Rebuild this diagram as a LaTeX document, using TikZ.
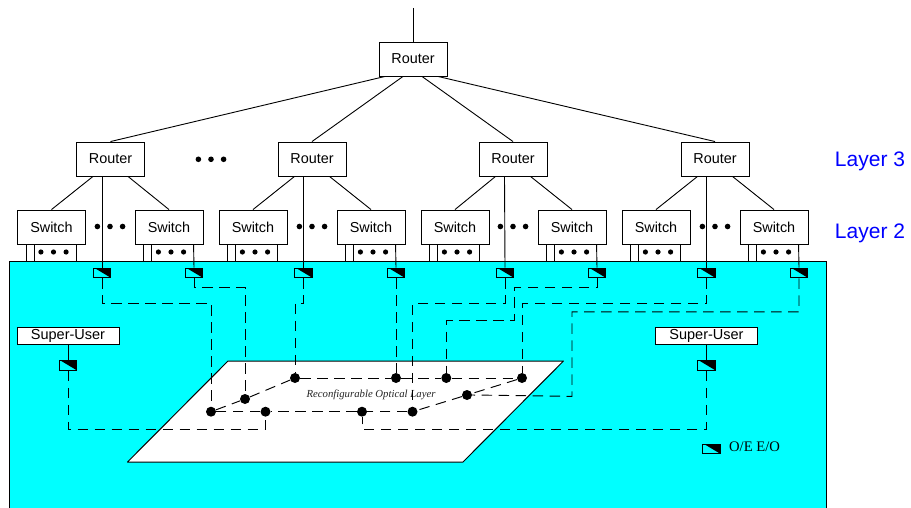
\documentclass[tikz,border=0pt]{standalone}
\usepackage{fontspec}
\setmainfont{Liberation Sans}
\newfontfamily\timesf{Liberation Serif}
\definecolor{cy}{RGB}{0,255,255}
\definecolor{layerblue}{RGB}{0,0,255}
\tikzset{
  line/.style={draw=black,line width=0.9pt},
  dashline/.style={draw=black,line width=0.95pt,dash pattern=on 10.5pt off 6.5pt},
  netbox/.style={draw=black,line width=0.9pt,fill=white,minimum width=68pt,minimum height=34pt,inner sep=0pt,font=\fontsize{14.4pt}{16pt}\selectfont},
  userbox/.style={draw=black,line width=0.9pt,fill=white,minimum width=102pt,minimum height=17.5pt,inner sep=0pt,font=\fontsize{14.5pt}{16pt}\selectfont},
  oebox/.style={draw=black,line width=1.2pt,fill=cy,minimum width=17.5pt,minimum height=9.5pt,inner sep=0pt,
    path picture={\fill[black] ([yshift=1pt]path picture bounding box.north west)--([yshift=1pt]path picture bounding box.north east)--(path picture bounding box.south east)--cycle;}},
  junction/.style={circle,fill=black,minimum size=10pt,inner sep=0pt},
  layerlabel/.style={text=layerblue,font=\fontsize{21pt}{24pt}\selectfont,inner sep=0pt},
}
\newcommand{\threedots}[3]{\foreach \dx in {-1,0,1}{\fill[black] ({#1+\dx*12.6},#2) circle (#3pt);}}
\begin{document}
\begin{tikzpicture}[x=1pt,y=-1pt]
\useasboundingbox (0,0) rectangle (911,508);
% substrate
\path[fill=cy,draw=black,line width=1pt] (9,261) rectangle (826,515);
\path[fill=white,draw=black,line width=1pt,line join=round] (228,361) -- (563.5,361) -- (463,462) -- (127.5,462) -- cycle;
\node[font=\timesf\itshape\fontsize{10.75pt}{12pt}\selectfont,text=black!85,inner sep=0pt] (layertext) at (371,394.5) {Reconfigurable Optical Layer};
% routers
\node[netbox] (top) at (413,59) {Router};
\node[netbox] (r1) at (110.5,159) {Router};
\node[netbox] (r2) at (312,159) {Router};
\node[netbox] (r3) at (513,159) {Router};
\node[netbox] (r4) at (715,159) {Router};
% switches
\node[netbox] (s1) at (51.5,227) {Switch};
\node[netbox] (s2) at (169,227) {Switch};
\node[netbox] (s3) at (253,227) {Switch};
\node[netbox] (s4) at (371,227) {Switch};
\node[netbox] (s5) at (455,227) {Switch};
\node[netbox] (s6) at (572,227) {Switch};
\node[netbox] (s7) at (656,227) {Switch};
\node[netbox] (s8) at (774,227) {Switch};
% O/E converters
\node[oebox] (o1) at (102,273) {};
\node[oebox] (o2) at (194,273) {};
\node[oebox] (o3) at (303.5,273) {};
\node[oebox] (o4) at (396,273) {};
\node[oebox] (o5) at (505,273) {};
\node[oebox] (o6) at (597,273) {};
\node[oebox] (o7) at (706.5,273) {};
\node[oebox] (o8) at (799,273) {};
% super users
\node[userbox] (u1) at (68,336) {Super-User};
\node[userbox] (u2) at (706.5,336) {Super-User};
\node[oebox] (ou1) at (68,365.5) {};
\node[oebox] (ou2) at (706.5,365.5) {};
% legend
\node[oebox] (legend) at (711.5,449) {};
\node[font=\timesf\fontsize{14.6pt}{16pt}\selectfont,anchor=west,inner sep=0pt] (legendtext) at (729,447) {O/E E/O};
% layer labels
\node[layerlabel] (l3) at (870,161) {Layer 3};
\node[layerlabel] (l2) at (870,233) {Layer 2};
% optical junctions
\node[junction] (j1) at (211,411.7) {};
\node[junction] (j2) at (245,399) {};
\node[junction] (j3) at (295,378) {};
\node[junction] (j4) at (396,378) {};
\node[junction] (j5) at (446.3,378) {};
\node[junction] (j6) at (522,378) {};
\node[junction] (j7) at (467,395) {};
\node[junction] (j8) at (412.5,411.7) {};
\node[junction] (j9) at (362,411.7) {};
\node[junction] (j10) at (265.5,411.7) {};
% uplinks
\coordinate (uplink) at (413,8);
\draw[line] (uplink) -- (top.north);
\draw[line] ([xshift=-28pt]top.south) -- (r1.north);
\draw[line] ([xshift=-10pt]top.south) -- (r2.north);
\draw[line] ([xshift=9pt]top.south) -- (r3.north);
\draw[line] ([xshift=25pt]top.south) -- (r4.north);
% router to switch and converter
\foreach \r/\a/\b/\oa in {r1/s1/s2/o1,r2/s3/s4/o3,r3/s5/s6/o5,r4/s7/s8/o7}{
  \draw[line] ([xshift=-17.5pt]\r.south) -- (\a.north);
  \draw[line] ([xshift=17.5pt]\r.south) -- (\b.north);
  \draw[line] ([xshift=-8.5pt]\r.south) -- (\oa.north);
}
% switch ports
\foreach \a in {s1,s3,s5,s7}{
  \draw[line] ([xshift=9pt]\a.south west) -- +(0,17);
  \draw[line] ([xshift=17pt]\a.south west) -- +(0,17);
  \draw[line] ([xshift=59pt]\a.south west) -- +(0,17);
}
\foreach \b/\ob in {s2/o2,s4/o4,s6/o6,s8/o8}{
  \draw[line] ([xshift=9pt]\b.south west) -- +(0,17);
  \draw[line] ([xshift=17pt]\b.south west) -- +(0,17);
  \draw[line] ([xshift=59pt]\b.south west) -- (\ob.north);
}
% ellipses
\threedots{211}{159.3}{2.8}
\foreach \x in {110,312,513,715}{\threedots{\x}{226.5}{2.8}}
\foreach \x in {53.5,171,255,373,457,574,658,776}{\threedots{\x}{252}{2.6}}
% user links
\draw[line] (u1.south) -- (ou1.north);
\draw[line] (u2.south) -- (ou2.north);
% dashed optical links
\draw[dashline] (o1.south) -- ++(0,25) -| (j1.north);
\draw[dashline] (o2.south) -- ++(0,9) -| (j2.north);
\draw[dashline] (o3.south) -- ++(0,25) -| (j3.north);
\draw[dashline] (o4.south) -- (j4.north);
\draw[dashline] (o5.south) -- ++(0,25) -| (j8.north);
\draw[dashline] (o6.south) -- ++(0,9) -| ++(-83,33.5) -| (j5.north);
\draw[dashline] (o7.south) -- ++(0,25.5) -| (j6.north);
\draw[dashline] (o8.south) -- ++(0,33.5) -| ++(-227,84.5) -- (j7.east);
\draw[dashline] (ou1.south) -- ++(0,58.5) -| (j10.south);
\draw[dashline] (ou2.south) -- ++(0,58.5) -| (j9.south);
% optical ring
\draw[dashline] (j1) -- (j2);
\draw[dashline] (j2) -- (j3);
\draw[dashline] (j3) -- (j4);
\draw[dashline] (j4) -- (j5);
\draw[dashline] (j5) -- (j6);
\draw[dashline] (j6) -- (j7);
\draw[dashline] (j7) -- (j8);
\draw[dashline] (j8) -- (j9);
\draw[dashline] (j9) -- (j10);
\draw[dashline] (j10) -- (j1);
\end{tikzpicture}
\end{document}
